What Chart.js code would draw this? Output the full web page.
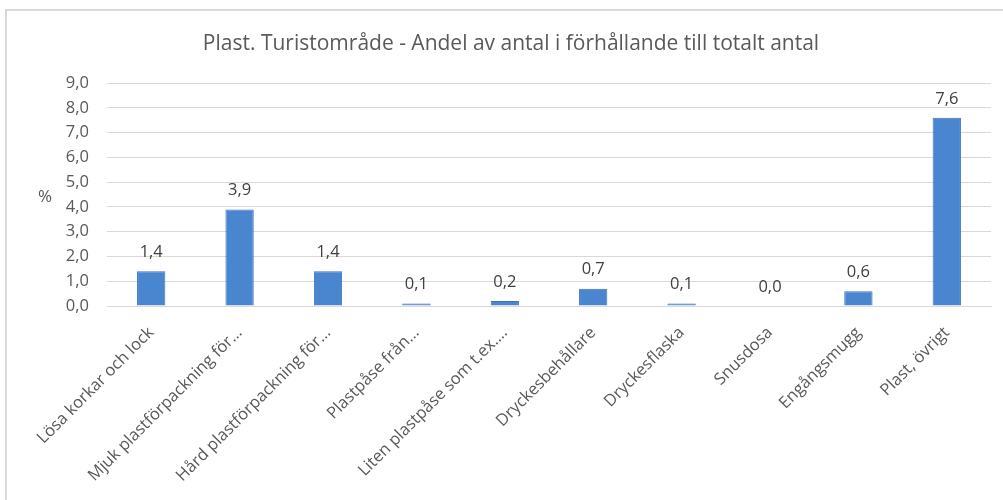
<!DOCTYPE html>
<html>
<head>
<meta charset="utf-8">
<script src="https://cdn.jsdelivr.net/npm/chart.js@4.4.1/dist/chart.umd.min.js"></script>
<style>
  html, body { margin: 0; padding: 0; background: #ffffff; overflow: hidden; }
  #frame { position: absolute; left: 5px; top: 9px; width: 1200px; height: 700px;
           border-left: 2px solid #d9d9d9; border-top: 2px solid #d9d9d9; background: #fff; }
  #wrap { position: absolute; left: 0; top: 0; width: 1003px; height: 500px; }
</style>
</head>
<body>
<div id="frame"></div>
<div id="wrap"><canvas id="c" width="1003" height="500"></canvas></div>
<script>
const titleText = 'Plast. Turistområde - Andel av antal i förhållande till totalt antal';
const categories = [
  'Lösa korkar och lock',
  'Mjuk plastförpackning för…',
  'Hård plastförpackning för…',
  'Plastpåse från…',
  'Liten plastpåse som t.ex.…',
  'Dryckesbehållare',
  'Dryckesflaska',
  'Snusdosa',
  'Engångsmugg',
  'Plast, övrigt'
];
const shares = [1.4, 3.9, 1.4, 0.1, 0.2, 0.7, 0.1, 0.0, 0.6, 7.6];
const yTickMax = 9;
const yTickStep = 1;
const yAxisUnit = '%';

const fmt = v => v.toFixed(1).replace('.', ',');
const FONT = '"Open Sans", "DejaVu Sans", sans-serif';

const extraText = {
  id: 'extraText',
  afterDatasetsDraw(chart) {
    const ctx = chart.ctx;
    ctx.save();
    ctx.font = '16.5px ' + FONT;
    ctx.fillStyle = '#404040';
    ctx.textAlign = 'center';
    ctx.textBaseline = 'middle';
    const meta = chart.getDatasetMeta(0);
    meta.data.forEach((bar, i) => {
      ctx.fillText(fmt(shares[i]), bar.x, bar.y - 19);
    });
    ctx.fillStyle = '#595959';
    ctx.font = '17px ' + FONT;
    ctx.fillText(yAxisUnit, 45, 197);
    ctx.restore();
  }
};

new Chart(document.getElementById('c'), {
  type: 'bar',
  data: {
    labels: categories,
    datasets: [{
      data: shares,
      backgroundColor: '#4a85d0',
      borderColor: '#3e72b5',
      borderWidth: 1,
      barPercentage: 0.32,
      categoryPercentage: 1.0
    }]
  },
  options: {
    responsive: false,
    animation: false,
    devicePixelRatio: 1,
    layout: { padding: { left: 31, right: 12, top: 0, bottom: 0 } },
    plugins: {
      legend: { display: false },
      tooltip: { enabled: false },
      title: {
        display: true,
        text: titleText,
        color: '#595959',
        font: { family: FONT, size: 21, weight: 'normal' },
        padding: { top: 31, bottom: 27 }
      }
    },
    scales: {
      x: {
        grid: { display: false, drawTicks: false },
        border: { display: true, color: '#d9d9d9', width: 1 },
        ticks: {
          autoSkip: false,
          maxRotation: 45,
          minRotation: 45,
          color: '#595959',
          font: { family: FONT, size: 16.5 },
          padding: 17
        },
        afterFit(scale) { scale.height = 194; }
      },
      y: {
        min: 0,
        max: yTickMax,
        grid: { color: '#d9d9d9', lineWidth: 1, drawTicks: false },
        border: { display: false },
        ticks: {
          stepSize: yTickStep,
          color: '#595959',
          font: { family: FONT, size: 16.5 },
          padding: 18,
          callback: v => fmt(v)
        },
        afterFit(scale) { scale.width = 76; }
      }
    }
  },
  plugins: [extraText]
});
</script>
</body>
</html>
